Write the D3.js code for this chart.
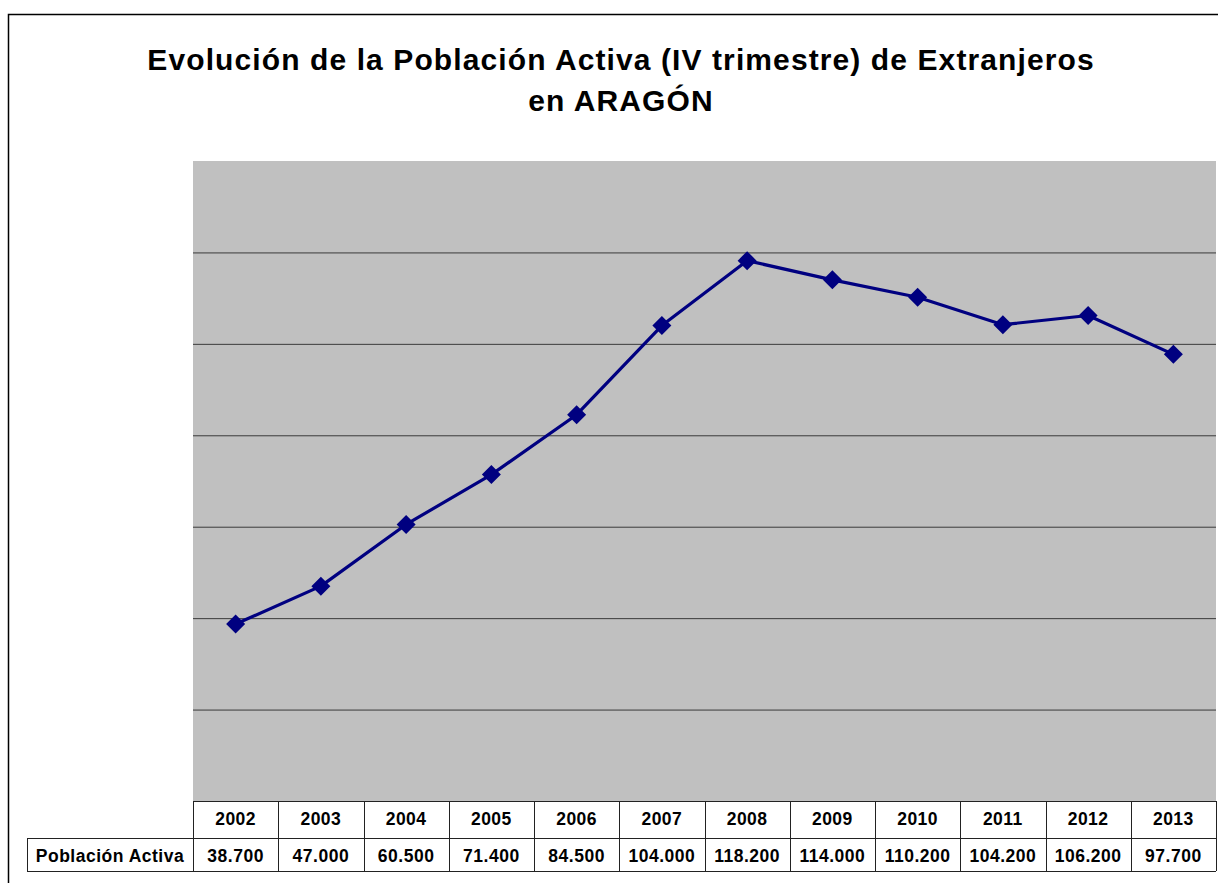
<!DOCTYPE html>
<html><head><meta charset="utf-8">
<script src="https://cdn.jsdelivr.net/npm/d3@7"></script>
<style>body{margin:0;background:#fff}svg{display:block}text{font-family:"Liberation Sans",Arial,sans-serif}</style>
</head><body><svg id="c" width="1218" height="883"></svg>
<script>
const years = ["2002","2003","2004","2005","2006","2007","2008","2009","2010","2011","2012","2013"];
const values = [38.7,47.0,60.5,71.4,84.5,104.0,118.2,114.0,110.2,104.2,106.2,97.7];
const valueLabels = ["38.700","47.000","60.500","71.400","84.500","104.000","118.200","114.000","110.200","104.200","106.200","97.700"];
const yTicks = [20,40,60,80,100,120];
const seriesName = "Población Activa";
const titleLines = ["Evolución de la Población Activa (IV trimestre) de Extranjeros","en ARAGÓN"];

const svg = d3.select("#c");
const L = 193, R = 1216, T = 161, B = 801;
const rowY = [B, 838, 871];

// outer frame
svg.append("rect").attr("x",8.5).attr("y",14.5).attr("width",1230).attr("height",900)
  .attr("fill","none").attr("stroke","#000").attr("stroke-width",1.5);

// title
svg.append("g").selectAll("text").data(titleLines).join("text")
  .attr("x",621).attr("y",(d,i)=>70+i*41).attr("text-anchor","middle")
  .attr("font-size",30).attr("letter-spacing",1.1).attr("font-weight","bold").attr("fill","#000").text(d=>d);

const x = d3.scaleBand().domain(years).range([L,R]).padding(0);
const y = d3.scaleLinear().domain([0,140]).range([B,T]);

svg.append("rect").attr("x",L).attr("y",T).attr("width",R-L).attr("height",B-T).attr("fill","#c0c0c0");

// gridlines via axis
const grid = svg.append("g").attr("transform",`translate(${L},0)`)
  .call(d3.axisLeft(y).tickValues(yTicks).tickSize(-(R-L)).tickFormat(""));
grid.select(".domain").remove();
grid.selectAll(".tick line").attr("stroke","#3a3a3a").attr("stroke-width",1);

const cx = i => x(years[i])+x.bandwidth()/2;
const line = d3.line().x((d,i)=>cx(i)).y(d=>y(d));
svg.append("path").datum(values).attr("d",line).attr("fill","none")
  .attr("stroke","#000080").attr("stroke-width",3.2).attr("stroke-linejoin","round");

const r = 9.5;
svg.append("g").selectAll("path").data(values).join("path")
  .attr("d",`M0,${-r}L${r},0L0,${r}L${-r},0Z`)
  .attr("transform",(d,i)=>`translate(${cx(i)},${y(d)})`)
  .attr("fill","#000080");

// data table
const tb = svg.append("g").attr("fill","none").attr("stroke","#222").attr("stroke-width",1);
const labL = 27;
tb.append("line").attr("x1",L).attr("x2",R).attr("y1",rowY[0]+0.5).attr("y2",rowY[0]+0.5);
tb.append("line").attr("x1",labL).attr("x2",R).attr("y1",rowY[1]+0.5).attr("y2",rowY[1]+0.5);
tb.append("line").attr("x1",labL).attr("x2",R).attr("y1",rowY[2]+0.5).attr("y2",rowY[2]+0.5);
const xs = years.map(d=>x(d)).concat([R]);
tb.selectAll("line.v").data(xs).join("line").attr("class","v")
  .attr("x1",d=>Math.round(d)+0.5).attr("x2",d=>Math.round(d)+0.5).attr("y1",rowY[0]).attr("y2",rowY[2]);
tb.append("line").attr("x1",labL+0.5).attr("x2",labL+0.5).attr("y1",rowY[1]).attr("y2",rowY[2]);

const tt = svg.append("g").attr("font-size",17.5).attr("letter-spacing",0.5).attr("font-weight","bold").attr("fill","#000").attr("text-anchor","middle");
tt.selectAll("text.yr").data(years).join("text").attr("class","yr")
  .attr("x",d=>x(d)+x.bandwidth()/2).attr("y",825).text(d=>d);
tt.selectAll("text.val").data(valueLabels).join("text").attr("class","val")
  .attr("x",(d,i)=>cx(i)).attr("y",862).text(d=>d);
tt.append("text").attr("x",(labL+L)/2).attr("y",862).text(seriesName);
</script></body></html>
